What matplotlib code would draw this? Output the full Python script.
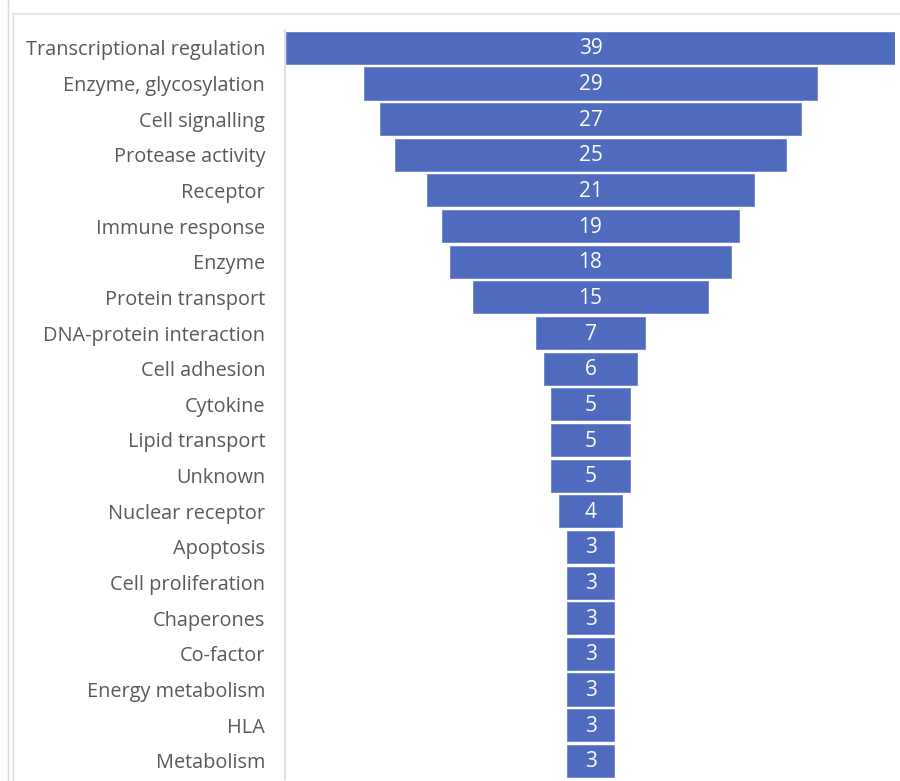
import matplotlib
matplotlib.use("Agg")
import matplotlib.pyplot as plt
from matplotlib.lines import Line2D

plt.rcParams["font.family"] = ["Open Sans", "DejaVu Sans"]

categories = ["Transcriptional regulation", "Enzyme, glycosylation", "Cell signalling",
              "Protease activity", "Receptor", "Immune response", "Enzyme",
              "Protein transport", "DNA-protein interaction", "Cell adhesion", "Cytokine",
              "Lipid transport", "Unknown", "Nuclear receptor", "Apoptosis",
              "Cell proliferation", "Chaperones", "Co-factor", "Energy metabolism",
              "HLA", "Metabolism"]
values = [39, 29, 27, 25, 21, 19, 18, 15, 7, 6, 5, 5, 5, 4, 3, 3, 3, 3, 3, 3, 3]

W, H = 900, 781
fig = plt.figure(figsize=(W / 100, H / 100), dpi=100)
fig.patch.set_facecolor("white")

# decorative border lines (chart frame)
grey = "#d9d9d9"
fig.add_artist(Line2D([7.5 / W, 7.5 / W], [0, 1], transform=fig.transFigure, color=grey, lw=1))
fig.add_artist(Line2D([12.5 / W, 12.5 / W], [0, 1 - 13 / H], transform=fig.transFigure, color=grey, lw=1))
fig.add_artist(Line2D([12.5 / W, 1], [1 - 13.5 / H, 1 - 13.5 / H], transform=fig.transFigure, color="#e6e6e6", lw=1.5))

top_px, row_px = 30, 35.65
n = len(categories)
bottom_px = top_px + n * row_px
ax = fig.add_axes([286 / W, (H - bottom_px) / H, 609 / W, (bottom_px - top_px) / H])

pos = list(range(n))
lefts = [-v / 2 for v in values]
ax.barh(pos, values, left=lefts, height=0.9, color="#4e6bbd", edgecolor="#6a85cf", linewidth=0.6)
for p, v in zip(pos, values):
    ax.text(0, p + 0.03, str(v), ha="center", va="center", color="white", fontsize=15)

ax.set_xlim(-19.5, 19.5)
ax.set_ylim(n - 0.5, -0.5)
ax.set_yticks(pos)
ax.set_yticklabels(categories)
ax.tick_params(axis="y", length=0, pad=14, labelsize=14.3, labelcolor="#595959")
ax.set_xticks([])
for s in ["top", "right", "bottom"]:
    ax.spines[s].set_visible(False)
ax.spines["left"].set_color("#d9d9d9")
ax.spines["left"].set_linewidth(1.2)
ax.spines["left"].set_position(("outward", 1))

fig.savefig("out.png", dpi=100)
